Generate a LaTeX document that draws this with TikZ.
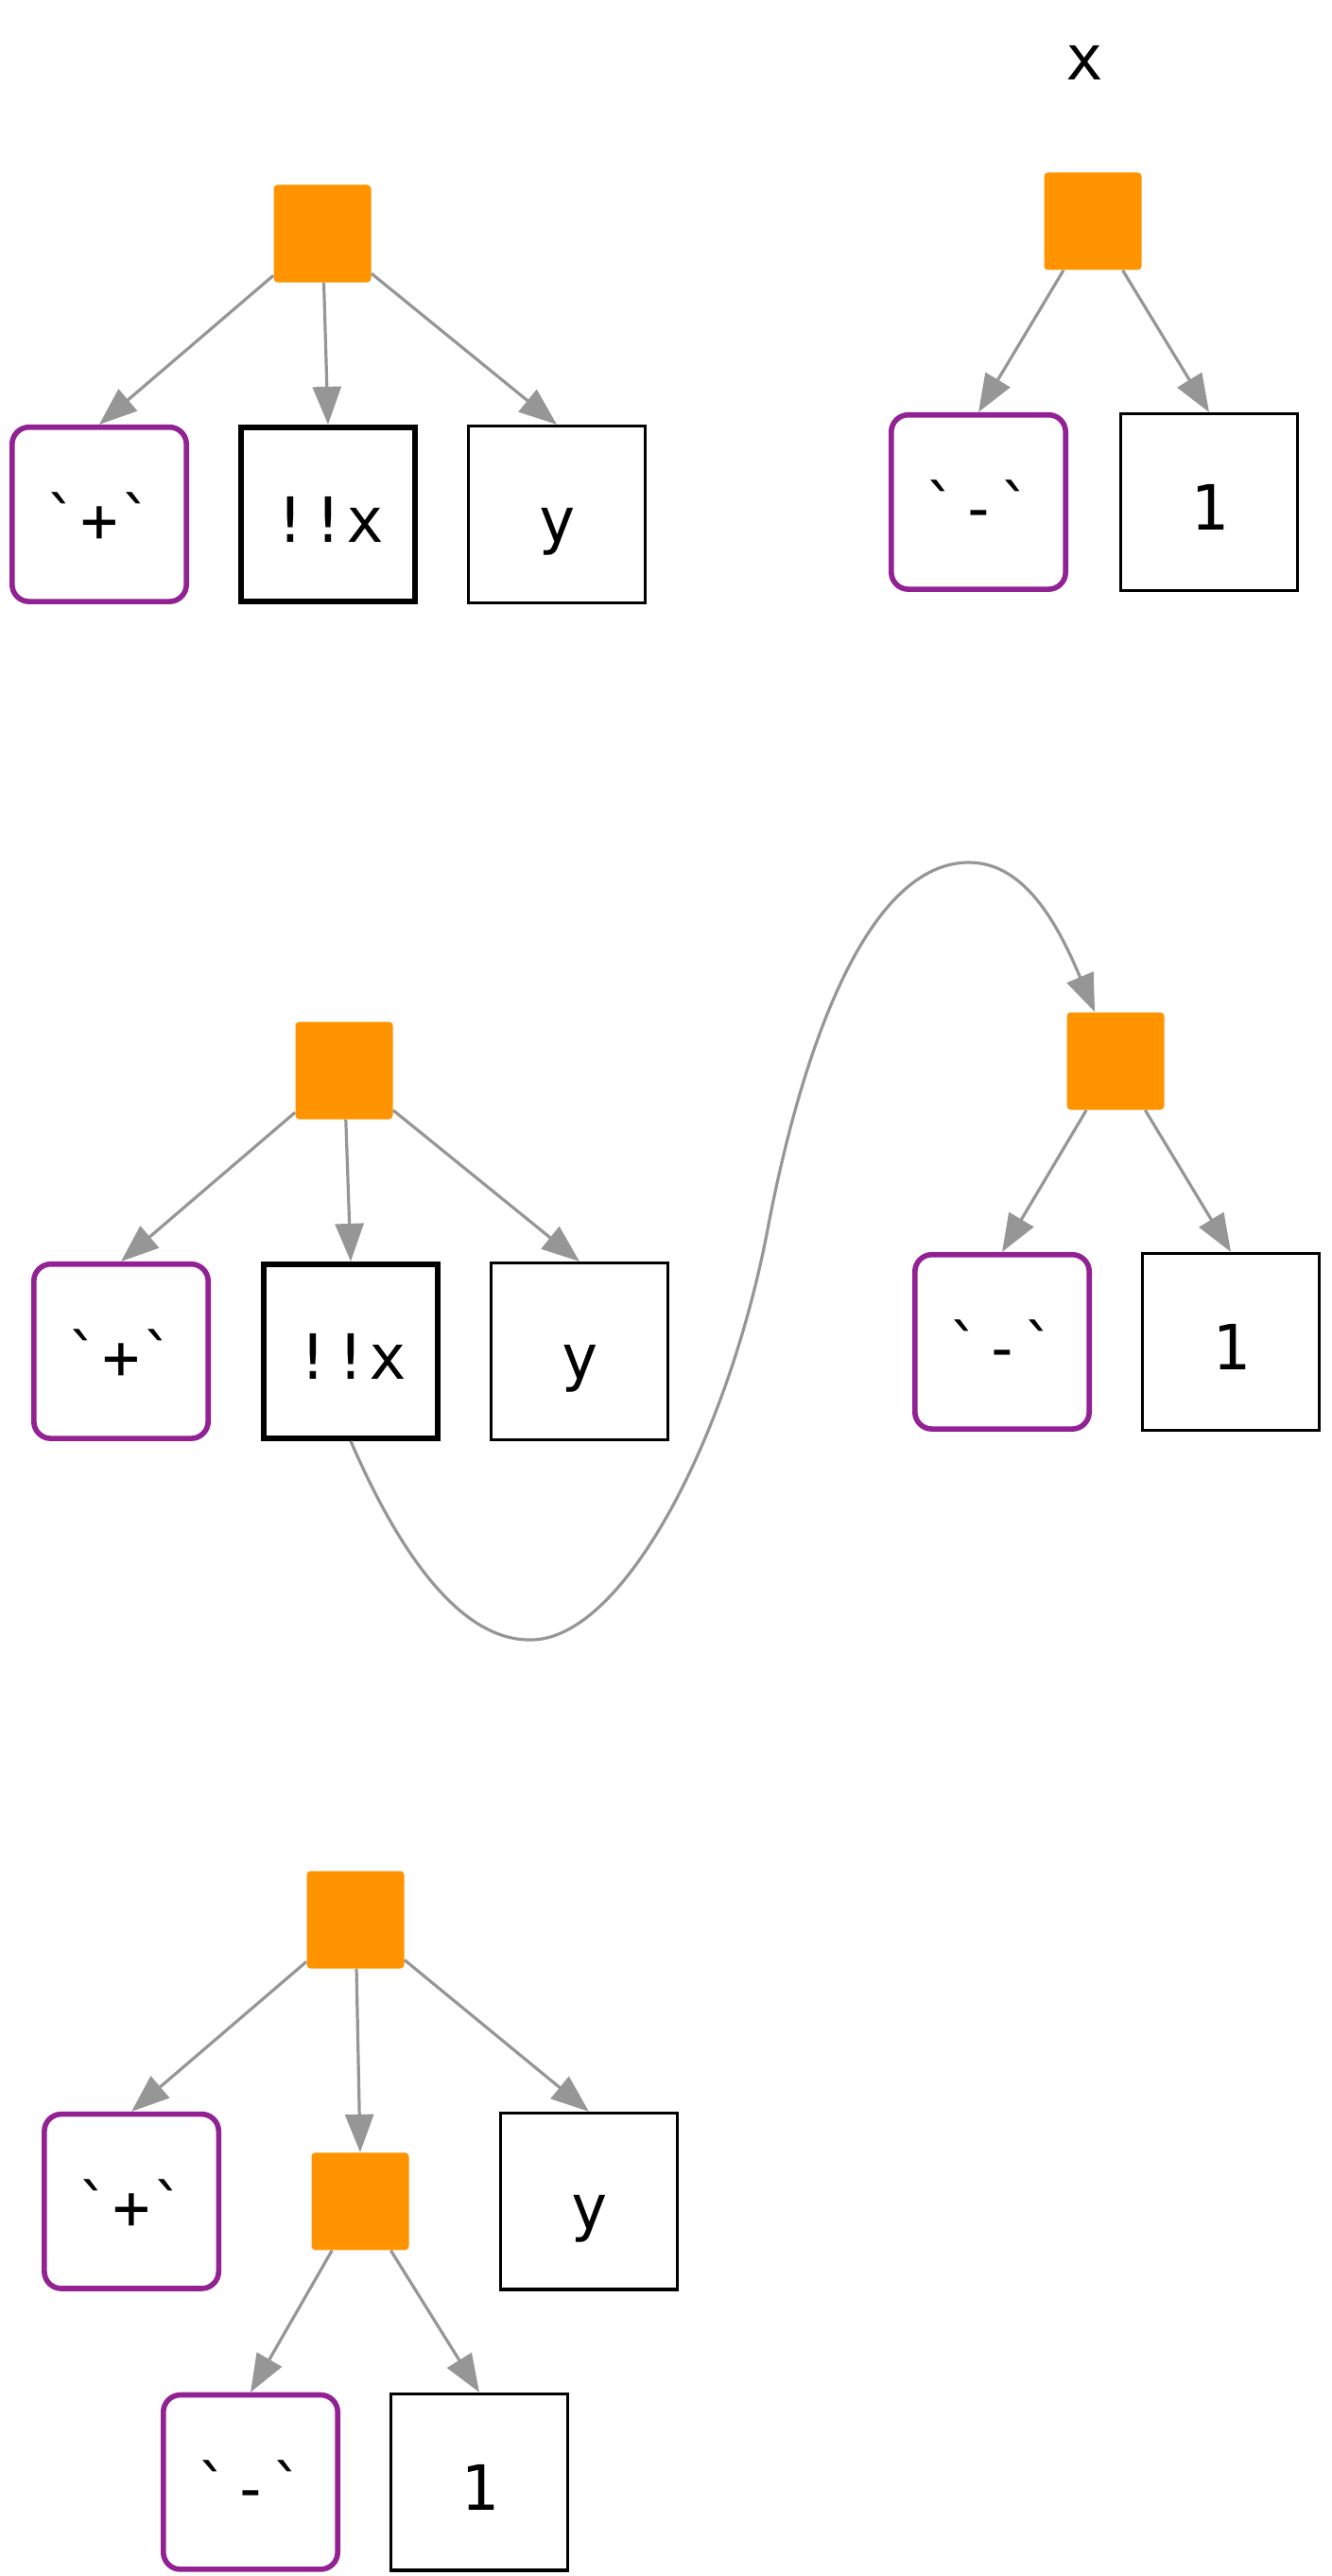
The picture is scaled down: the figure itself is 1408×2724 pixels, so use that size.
\documentclass[tikz,border=0pt]{standalone}
\usepackage{fontspec}
\setmonofont{DejaVu Sans Mono}
\usetikzlibrary{positioning}
\usetikzlibrary{arrows.meta}

\definecolor{oporange}{RGB}{255,148,0}
\definecolor{fnpurple}{RGB}{146,33,148}
\definecolor{edgegray}{RGB}{150,150,150}

\begin{document}
\begin{tikzpicture}[
    x=0.5pt, y=-0.5pt,
    font=\ttfamily\fontsize{33}{38}\selectfont,
    opbox/.style={fill=oporange, rounded corners=2pt, minimum size=51.5pt, inner sep=0},
    leaf/.style={text height=32pt, text depth=2pt, inner sep=0},
    fnbox/.style={leaf, draw=fnpurple, line width=2.8pt, rounded corners=9pt, minimum size=92.2pt},
    symbox/.style={leaf, draw, line width=3pt, minimum size=92pt},
    valbox/.style={leaf, draw, line width=1.7pt, minimum size=93.3pt},
    gedge/.style={-{Triangle[length=20pt, width=15pt]}, line width=1.6pt, draw=edgegray}
]
\useasboundingbox (0,0) rectangle (1408,2724);

% First call
\node[opbox] (op1) at (341,247) {};
\node[symbox, below=75pt of op1, xshift=3pt] (bang1) {!!x};
\node[fnbox, left=26pt of bang1] (plus1) {`+`};
\node[valbox, right=26pt of bang1] (y1) {y};
\draw[gedge] (op1) -- (plus1.north);
\draw[gedge] (op1) -- (bang1.north);
\draw[gedge] (op1) -- (y1.north);

% Binding of x
\node (xname) at (1147,66) {x};
\node[opbox] (op2) at (1156,234) {};
\node[fnbox, below=75pt of op2, xshift=-60.5pt] (minus1) {`-`};
\node[valbox, right=27pt of minus1] (one1) {1};
\draw[gedge] (op2) -- (minus1.north);
\draw[gedge] (op2) -- (one1.north);

% Substitution
\node[opbox] (op3) at (364,1132) {};
\node[symbox, below=75pt of op3, xshift=3.5pt] (bang2) {!!x};
\node[fnbox, left=26.5pt of bang2] (plus2) {`+`};
\node[valbox, right=26pt of bang2] (y2) {y};
\draw[gedge] (op3) -- (plus2.north);
\draw[gedge] (op3) -- (bang2.north);
\draw[gedge] (op3) -- (y2.north);

\node[opbox] (op4) at (1180,1122) {};
\node[fnbox, below=75pt of op4, xshift=-60pt] (minus2) {`-`};
\node[valbox, right=26pt of minus2] (one2) {1};
\draw[gedge] (op4) -- (minus2.north);
\draw[gedge] (op4) -- (one2.north);

\draw[gedge] (bang2.south)
    .. controls (430,1660) and (495,1736) .. (563,1734)
    .. controls (660,1732) and (770,1520) .. (812,1300)
    .. controls (850,1100) and (920,912) .. (1025,912)
    .. controls (1085,912) and (1120,980) .. (op4);

% Result
\node[opbox] (op5) at (376,2030) {};
\node[opbox, below=97pt of op5, xshift=2.5pt] (op6) {};
\node[fnbox, left=47.5pt of op6] (plus3) {`+`};
\node[valbox, right=47.5pt of op6] (y3) {y};
\node[fnbox, below=75pt of op6, xshift=-58pt] (minus3) {`-`};
\node[valbox, right=26pt of minus3] (one3) {1};
\draw[gedge] (op5) -- (plus3.north);
\draw[gedge] (op5) -- (op6.north);
\draw[gedge] (op5) -- (y3.north);
\draw[gedge] (op6) -- (minus3.north);
\draw[gedge] (op6) -- (one3.north);

\end{tikzpicture}
\end{document}
